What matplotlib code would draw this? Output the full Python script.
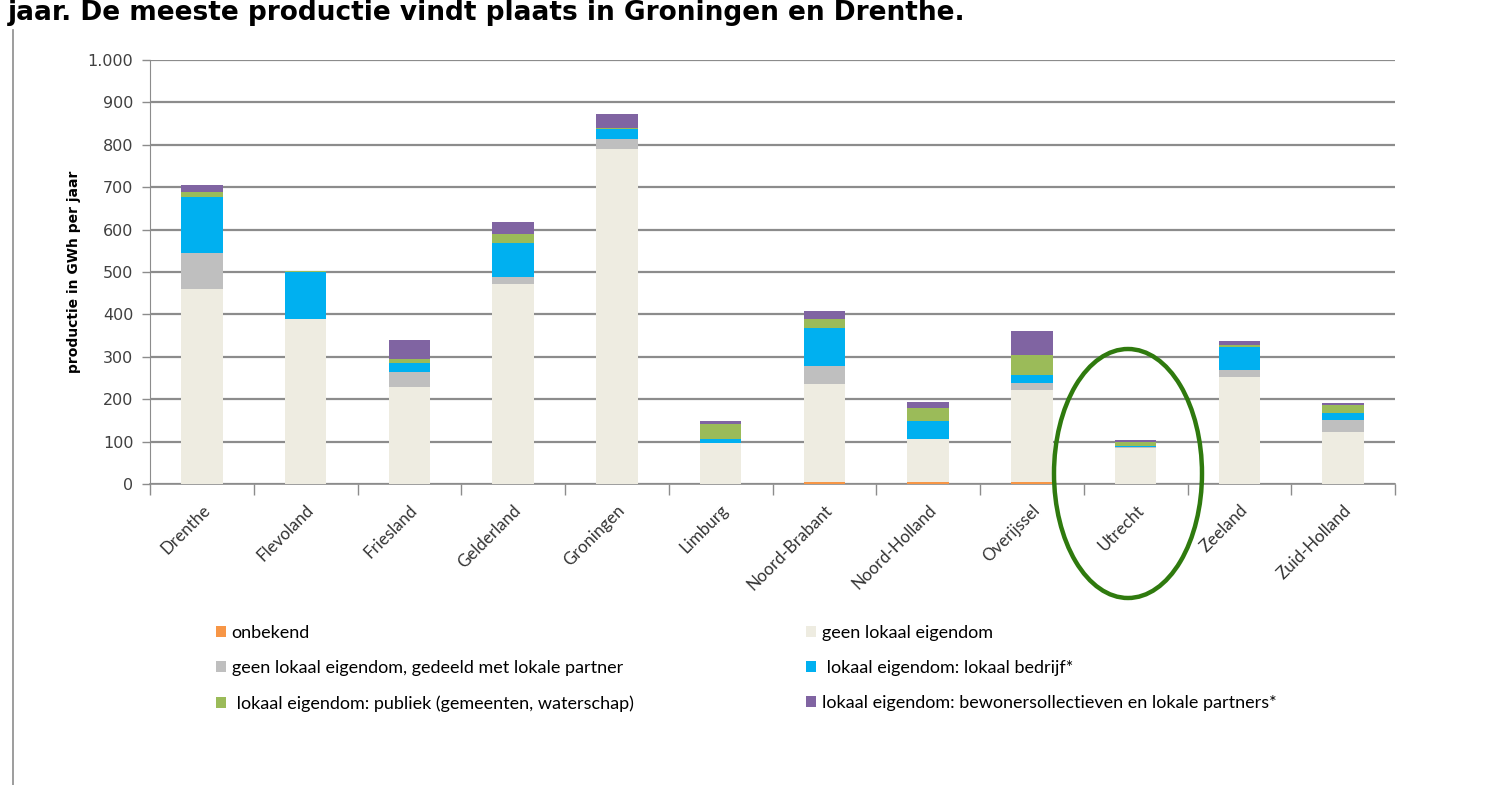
import numpy as np
import matplotlib
matplotlib.use("Agg")
import matplotlib.pyplot as plt
from matplotlib.patches import Ellipse, Patch
from matplotlib.lines import Line2D
from matplotlib.ticker import FuncFormatter, FixedLocator

# Productie per provincie (GWh per jaar)
provincies = ["Drenthe", "Flevoland", "Friesland", "Gelderland", "Groningen", "Limburg",
              "Noord-Brabant", "Noord-Holland", "Overijssel", "Utrecht", "Zeeland", "Zuid-Holland"]

onbekend = [0, 0, 0, 0, 0, 0, 5, 5, 5, 0, 0, 0]
geen_lokaal = [460, 390, 229, 471, 790, 96, 230, 100, 217, 84, 253, 123]
gedeeld = [85, 0, 35, 17, 24, 0, 43, 0, 17, 4, 17, 28]
lokaal_bedrijf = [133, 109, 22, 81, 23, 10, 91, 44, 18, 1, 54, 16]
publiek = [10, 3, 9, 21, 3, 35, 20, 31, 48, 9, 3, 20]
bewoners = [17, 0, 45, 27, 33, 8, 19, 13, 57, 5, 10, 4]

labels = ["onbekend", "geen lokaal eigendom", "geen lokaal eigendom, gedeeld met lokale partner",
          " lokaal eigendom: lokaal bedrijf*", " lokaal eigendom: publiek (gemeenten, waterschap)",
          "lokaal eigendom: bewonersollectieven en lokale partners*"]
kleuren = ["#F79646", "#EEECE1", "#BFBFBF", "#00B0F0", "#9BBB59", "#8064A2"]

series = [onbekend, geen_lokaal, gedeeld, lokaal_bedrijf, publiek, bewoners]

fig = plt.figure(figsize=(14.91, 7.85), dpi=100)
ax = fig.add_axes([150 / 1491, 1 - 484 / 785, 1245 / 1491, 424 / 785])

x = np.arange(len(provincies))
bottom = np.zeros(len(provincies))
for vals, kleur in zip(series, kleuren):
    vals = np.array(vals, dtype=float)
    ax.bar(x, vals, bottom=bottom, width=0.40, color=kleur, edgecolor="none", zorder=3)
    bottom += vals

ax.set_xlim(-0.5, len(provincies) - 0.5)
ax.set_ylim(0, 1000)
ax.set_yticks(np.arange(0, 1001, 100))
ax.yaxis.set_major_formatter(FuncFormatter(lambda v, p: f"{int(v):,}".replace(",", ".")))
ax.yaxis.grid(True, color="#8C8C8C", linewidth=1.6, zorder=0)

# categorie-labels in het midden, tickstreepjes op de grenzen
ax.set_xticks(x)
ax.set_xticklabels(provincies, rotation=45, ha="right", va="top", rotation_mode="anchor",
                   fontsize=12.2, family="Lato", color="#333333")
ax.tick_params(axis="x", length=0, pad=13)
ax.xaxis.set_minor_locator(FixedLocator(np.arange(-0.5, len(provincies), 1.0)))
ax.tick_params(axis="x", which="minor", length=8, color="#8C8C8C", width=1)
ax.tick_params(axis="y", length=6, color="#8C8C8C", width=1, labelsize=11.5,
               labelcolor="#404040", pad=6)

for s in ["top", "right"]:
    ax.spines[s].set_visible(False)
ax.spines["left"].set_color("#8C8C8C")
ax.spines["bottom"].set_color("#8C8C8C")
ax.spines["bottom"].set_linewidth(1.2)

ax.set_ylabel("productie in GWh per jaar", fontsize=10, fontweight="bold", labelpad=5)

# titel (in het origineel aan de bovenkant afgesneden)
fig.text(8 / 1491, 1.0, "jaar. De meeste productie vindt plaats in Groningen en Drenthe.",
         fontsize=19, fontweight="bold", ha="left", va="top")

# lijn links langs de rand
fig.add_artist(Line2D([13 / 1491, 13 / 1491], [0, 1 - 30 / 785], color="#8C8C8C", linewidth=1.2))

# legenda in twee kolommen
handles = [Patch(facecolor=k, edgecolor="none") for k in kleuren]
for col, left in [(0, 200), (1, 790)]:
    idx = [col, col + 2, col + 4]
    fig.legend([handles[i] for i in idx], [labels[i] for i in idx],
               loc="upper left", bbox_to_anchor=(left / 1491, 1 - 609 / 785),
               frameon=False, prop={"family": "Lato", "size": 13},
               handlelength=0.55, handleheight=0.55, handletextpad=0.3, labelspacing=1.05)

# groene ellips rond Utrecht
fig.add_artist(Ellipse((1128 / 1491, 1 - 473.5 / 785), 148 / 1491, 249 / 785,
                       transform=fig.transFigure, fill=False, edgecolor="#2F7A0E", linewidth=3.2))

fig.savefig("out.png", dpi=100)
